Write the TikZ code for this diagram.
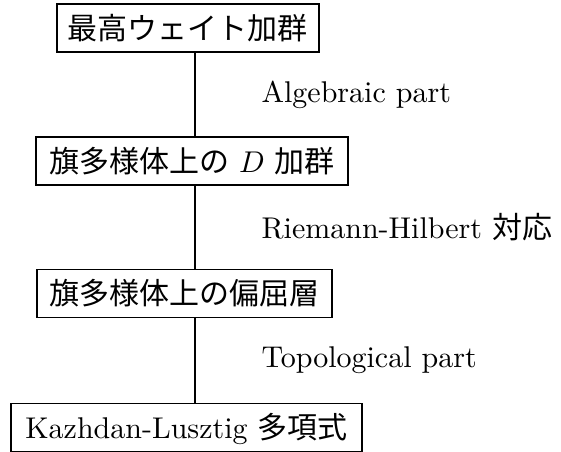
\documentclass[tikz,border=0pt]{standalone}
\usepackage{fontspec}
\newfontfamily\jpfont{Noto Sans CJK JP}
\begin{document}
\begin{tikzpicture}[x=0.33333pt, y=-0.33333pt,
  box/.style={draw, line width=0.5pt, inner xsep=0pt, inner ysep=3pt,
    text height=8.8pt, text depth=1.2pt, minimum height=16pt, font=\fontsize{10}{12}\selectfont},
  lbl/.style={anchor=west, inner sep=0pt, font=\fontsize{10}{12}\selectfont},
  spine/.style={line width=0.5pt}]
\useasboundingbox (0,0) rectangle (561,452);
\node[box, minimum width=87.3pt] (b1) at (188,28) {{\jpfont 最高ウェイト加群}};
\node[box, minimum width=104pt] (b2) at (192,161) {{\jpfont 旗多様体上の} $D$ {\jpfont 加群}};
\node[box, minimum width=98.3pt] (b3) at (184.5,293.5) {{\jpfont 旗多様体上の偏屈層}};
\node[box, minimum width=117pt] (b4) at (186.5,427.5) {Kazhdan-Lusztig {\jpfont 多項式}};
\coordinate (sp) at (195,0);
\draw[spine] (b1.south -| sp) -- (b2.north -| sp);
\draw[spine] (b2.south -| sp) -- (b3.north -| sp);
\draw[spine] (b3.south -| sp) -- (b4.north -| sp);
\node[lbl] (l1) at (261,94.5) {Algebraic part};
\node[lbl] (l2) at (261,227.5) {Riemann-Hilbert {\jpfont 対応}};
\node[lbl] (l3) at (261,360.5) {Topological part};
\end{tikzpicture}
\end{document}
